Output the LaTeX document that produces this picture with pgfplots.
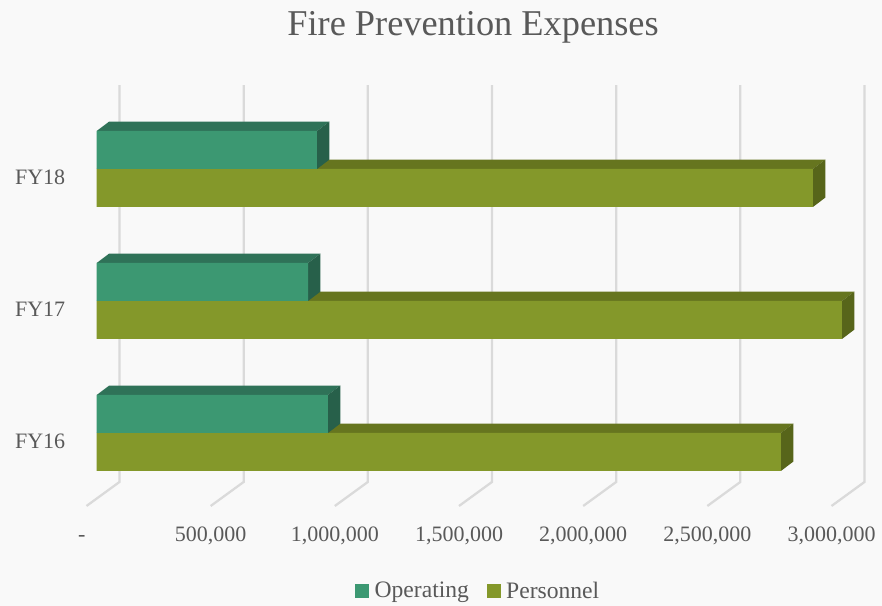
\documentclass[border=0pt]{standalone}
\usepackage{pgfplots}
\usepackage{fontspec}
\setmainfont{Liberation Serif}
\pgfplotsset{compat=1.18}
\definecolor{bgc}{HTML}{F9F9F9}
\definecolor{txt}{HTML}{595959}
\definecolor{gridc}{HTML}{DADADA}
\definecolor{opfront}{HTML}{3C9872}
\definecolor{optop}{HTML}{2F7258}
\definecolor{opside}{HTML}{27604A}
\definecolor{pefront}{HTML}{84982A}
\definecolor{petop}{HTML}{66751F}
\definecolor{peside}{HTML}{57651A}
\pgfplotsset{
  wall/.style={gridc,line width=1.7pt,forget plot},
  face/.style={fill=#1,draw=none,forget plot},
}
\begin{document}
\begin{tikzpicture}
\useasboundingbox (0,0) rectangle (661.5pt,454.5pt);
\fill[bgc] (0,0) rectangle (661.5pt,454.5pt);
\begin{axis}[
    at={(0,0)},anchor=south west,
    scale only axis,
    width=661.5pt,height=454.5pt,
    xmin=-389400,xmax=3162200,
    ymin=-1.3106,ymax=3.2803,
    clip=false,
    axis line style={draw=none},
    major tick length=0pt,
    tick style={draw=none},
    scaled x ticks=false,
    xtick={0,500000,1000000,1500000,2000000,2500000,3000000},
    xticklabels={{-\kern7.2pt\relax},{500,000},{1,000,000},{1,500,000},{2,000,000},{2,500,000},{3,000,000}},
    ytick={0,1,2},
    yticklabels={FY16,FY17,FY18},
    x tick label style={font=\fontsize{16.5}{18}\selectfont,text=txt,anchor=base,xshift=-7.65pt,yshift=48pt},
    y tick label style={font=\fontsize{16.5}{18}\selectfont,text=txt,anchor=west,xshift=7.8pt,yshift=-6pt},
    title={Fire Prevention Expenses},
    title style={font=\fontsize{27.25}{30}\selectfont,text=txt,at={(0.5363,0.9604)},anchor=center,yshift=-8.5pt},
    legend style={draw=none,fill=none,at={(0.5425,0.0250)},anchor=center,legend columns=2,
      font=\fontsize{17.7}{20}\selectfont,text=txt,
      /tikz/every odd column/.append style={column sep=2.5pt},
      /tikz/every even column/.append style={column sep=11.2pt}},
]
% walls and floor
\addplot[wall] coordinates {(91800,2.636)(91800,-0.371)(-41100,-0.553)};
\addplot[wall] coordinates {(591800,2.636)(591800,-0.371)(458900,-0.553)};
\addplot[wall] coordinates {(1091800,2.636)(1091800,-0.371)(958900,-0.553)};
\addplot[wall] coordinates {(1591800,2.636)(1591800,-0.371)(1458900,-0.553)};
\addplot[wall] coordinates {(2091800,2.636)(2091800,-0.371)(1958900,-0.553)};
\addplot[wall] coordinates {(2591800,2.636)(2591800,-0.371)(2458900,-0.553)};
\addplot[wall] coordinates {(3091800,2.636)(3091800,-0.371)(2958900,-0.553)};
% legend entries
\addlegendimage{legend image code/.code={\fill[opfront] (0pt,-4.9pt) rectangle (9.8pt,4.9pt);}}
\addlegendentry{Operating}
\addlegendimage{legend image code/.code={\fill[pefront] (0pt,-4.9pt) rectangle (9.8pt,4.9pt);}}
\addlegendentry{Personnel}
% personnel
\addplot[face=petop] coordinates {(0,0)(50000,.0712)(2805000,.0712)(2755000,0)} --cycle;
\addplot[face=peside] coordinates {(2755000,0)(2805000,.0712)(2805000,-.2167)(2755000,-.2879)} --cycle;
\addplot[face=petop] coordinates {(0,1)(50000,1.0712)(3051000,1.0712)(3001000,1)} --cycle;
\addplot[face=peside] coordinates {(3001000,1)(3051000,1.0712)(3051000,.7833)(3001000,.7121)} --cycle;
\addplot[face=petop] coordinates {(0,2)(50000,2.0712)(2934000,2.0712)(2884000,2)} --cycle;
\addplot[face=peside] coordinates {(2884000,2)(2934000,2.0712)(2934000,1.7833)(2884000,1.7121)} --cycle;
\addplot[xbar,bar width=28.5pt,bar shift=-14.25pt,fill=pefront,draw=none,forget plot]
  coordinates {(2755000,0)(3001000,1)(2884000,2)};
% operating
\addplot[face=optop] coordinates {(0,.2879)(50000,.3591)(981000,.3591)(931000,.2879)} --cycle;
\addplot[face=opside] coordinates {(931000,.2879)(981000,.3591)(981000,.0712)(931000,0)} --cycle;
\addplot[face=optop] coordinates {(0,1.2879)(50000,1.3591)(901000,1.3591)(851000,1.2879)} --cycle;
\addplot[face=opside] coordinates {(851000,1.2879)(901000,1.3591)(901000,1.0712)(851000,1)} --cycle;
\addplot[face=optop] coordinates {(0,2.2879)(50000,2.3591)(937000,2.3591)(887000,2.2879)} --cycle;
\addplot[face=opside] coordinates {(887000,2.2879)(937000,2.3591)(937000,2.0712)(887000,2)} --cycle;
\addplot[xbar,bar width=28.5pt,bar shift=14.25pt,fill=opfront,draw=none,forget plot]
  coordinates {(931000,0)(851000,1)(887000,2)};
\end{axis}
\end{tikzpicture}
\end{document}
